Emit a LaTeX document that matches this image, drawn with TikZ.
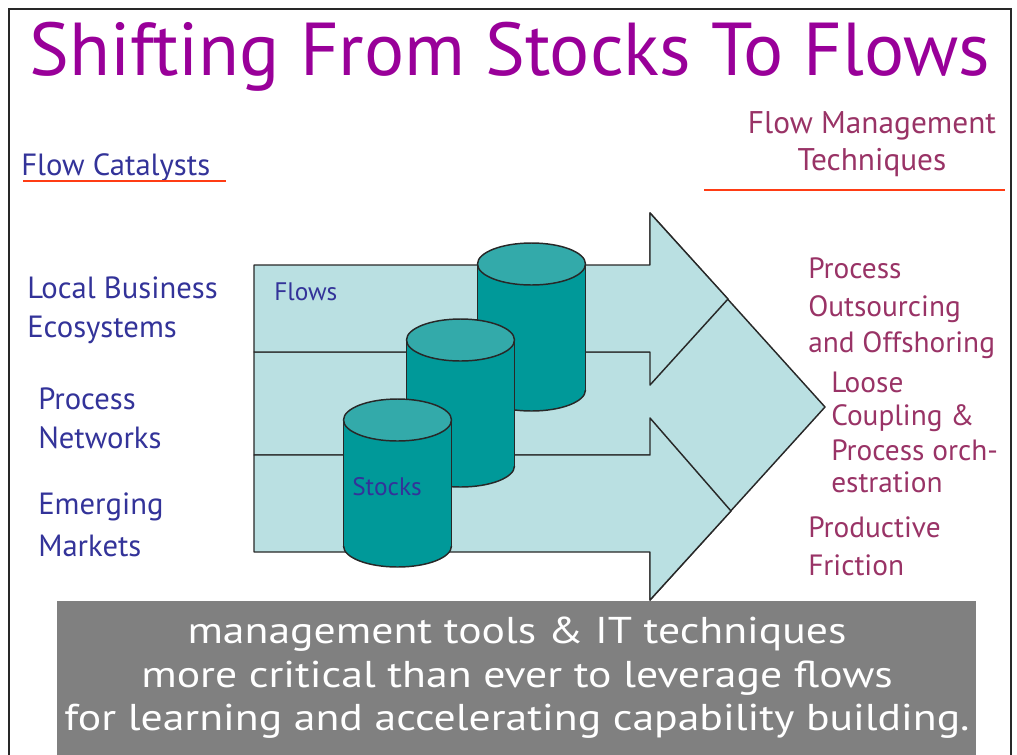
\documentclass[tikz,border=0pt]{standalone}
\usepackage{fontspec}
\setmainfont{PT Sans}
\usepackage{graphicx}
\definecolor{titlec}{RGB}{153,0,153}
\definecolor{bluec}{RGB}{51,51,153}
\definecolor{maroonc}{RGB}{153,51,102}
\definecolor{ulc}{RGB}{255,60,20}
\definecolor{arrowc}{RGB}{186,224,226}
\definecolor{cylbodyc}{RGB}{0,153,153}
\definecolor{cyltopc}{RGB}{51,170,170}
\definecolor{edgec}{RGB}{40,40,40}
\definecolor{boxc}{RGB}{128,128,128}
\newcommand\drawcyl[2]{%
  \fill[cylbodyc] (#1-54,#2) rectangle (#1+54,#2+126);
  \fill[cylbodyc] (#1,#2+126) ellipse[x radius=54,y radius=21];
  \begin{scope}
    \clip (#1-60,#2+126) rectangle (#1+60,#2+152);
    \draw[outl] (#1,#2+126) ellipse[x radius=54,y radius=21];
  \end{scope}
  \draw[outl] (#1-54,#2) -- (#1-54,#2+126) (#1+54,#2) -- (#1+54,#2+126);
  \filldraw[outl,fill=cyltopc] (#1,#2) ellipse[x radius=54,y radius=21];}
\newcommand\boxstretch[1]{\scalebox{1.17}[1]{#1}}
\begin{document}
\begin{tikzpicture}[x=0.75pt,y=-0.75pt,
  outl/.style={draw=edgec,line width=1.1pt,line join=round},
  arrowshape/.style={outl,fill=arrowc},
  lefttxt/.style={anchor=base west,inner sep=0pt,text=bluec,font=\fontsize{23pt}{28pt}\selectfont},
  righttxt/.style={anchor=base west,inner sep=0pt,text=maroonc,font=\fontsize{22pt}{26pt}\selectfont},
  headtxt/.style={anchor=base,inner sep=0pt,text=maroonc,font=\fontsize{23.5pt}{28pt}\selectfont},
  innertxt/.style={anchor=base west,inner sep=0pt,text=bluec,font=\fontsize{19pt}{23pt}\selectfont},
  boxtxt/.style={anchor=base,inner sep=0pt,text=white,font=\fontsize{28pt}{33pt}\selectfont},
  uline/.style={draw=ulc,line width=1.3pt}]
\useasboundingbox (0,0) rectangle (1017,754);
% frame
\draw[draw=edgec,line width=1.6pt] (9,760) -- (9,9) -- (1011,9) -- (1011,760);
% title
\node[anchor=base,inner sep=0pt,text=titlec] (title) at (510,75)
  {\resizebox{720pt}{!}{Shifting From Stocks To Flows}};
% headings
\node[lefttxt] (fc) at (21,175) {Flow Catalysts};
\draw[uline] (23,181) -- (226,181);
\node[headtxt] (fm1) at (872,133) {Flow Management};
\node[headtxt] (fm2) at (872,170) {Techniques};
\draw[uline] (704,190) -- (1005,190);
% arrows
\draw[arrowshape] (254,352) -- (650,352) -- (650,213) -- (825,407) -- (650,600) -- (650,455) -- (254,455) -- cycle;
\draw[arrowshape] (254,265) -- (650,265) -- (650,213) -- (728,299) -- (650,385) -- (650,352) -- (254,352) -- cycle;
\draw[arrowshape] (254,455) -- (650,455) -- (650,418) -- (731,511) -- (650,600) -- (650,552) -- (254,552) -- cycle;
% cylinders
\drawcyl{531.5}{264}
\drawcyl{460.5}{340}
\drawcyl{397.5}{420}
\node[innertxt] (flows) at (274,300) {Flows};
\node[innertxt] (stocks) at (352,495) {Stocks};
% left labels
\node[lefttxt] (l1) at (27,298) {Local Business};
\node[lefttxt] (l2) at (27,337) {Ecosystems};
\node[lefttxt] (l3) at (38,409) {Process};
\node[lefttxt] (l4) at (38,448) {Networks};
\node[lefttxt] (l5) at (38,514) {Emerging};
\node[lefttxt] (l6) at (38,556) {Markets};
% right labels
\node[righttxt] (r1) at (808,278) {Process};
\node[righttxt] (r2) at (808,316) {Outsourcing};
\node[righttxt] (r3) at (808,352) {and Offshoring};
\node[righttxt] (r4) at (831,392) {Loose};
\node[righttxt] (r5) at (831,425) {Coupling \&};
\node[righttxt] (r6) at (831,460) {Process orch-};
\node[righttxt] (r7) at (831,492) {estration};
\node[righttxt] (r8) at (808,537) {Productive};
\node[righttxt] (r9) at (808,575) {Friction};
% bottom box
\fill[boxc] (57,601) rectangle (976,760);
\node[boxtxt] (b1) at (517,643) {\boxstretch{management tools \& IT techniques}};
\node[boxtxt] (b2) at (517,687) {\boxstretch{more critical than ever to leverage flows}};
\node[boxtxt] (b3) at (517,730) {\boxstretch{for learning and accelerating capability building.}};
\end{tikzpicture}
\end{document}
